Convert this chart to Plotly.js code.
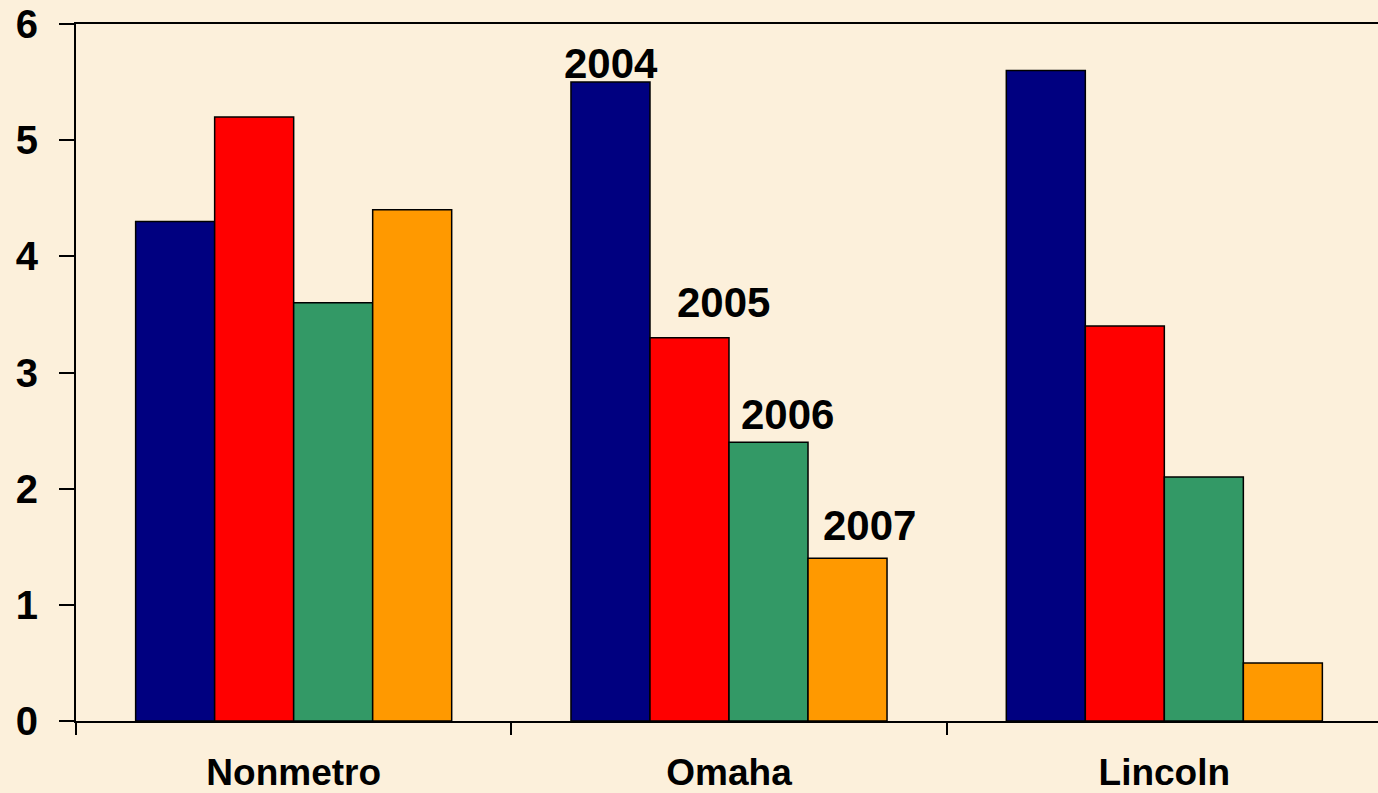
<!DOCTYPE html>
<html>
<head>
<meta charset="utf-8">
<script src="https://cdn.plot.ly/plotly-3.0.1.min.js"></script>
<style>
  html, body { margin: 0; padding: 0; overflow: hidden; background: #FCF0DB; }
  #chart { width: 1382px; height: 793px; }
</style>
</head>
<body>
<div id="chart"></div>
<script>
// Regions and years
const categories = ['Nonmetro', 'Omaha', 'Lincoln'];
const years = ['2004', '2005', '2006', '2007'];

// Values per year, one entry per region
const values2004 = [4.3, 5.5, 5.6];
const values2005 = [5.2, 3.3, 3.4];
const values2006 = [3.6, 2.4, 2.1];
const values2007 = [4.4, 1.4, 0.5];

const seriesValues = [values2004, values2005, values2006, values2007];
const seriesColors = ['#000080', '#FF0000', '#339966', '#FF9900'];

// Year labels are written over the Omaha group
const labelCategoryIndex = 1;
// Pixel nudges for each year label: [dx, gap above bar]
const labelNudges = [[1, 2], [34, 19], [19, 11], [22, 16]];

const bargap = 0.274;
const FONT = 'Liberation Sans, Arial, sans-serif';

const traces = years.map((yr, i) => ({
  type: 'bar',
  name: yr,
  x: categories,
  y: seriesValues[i],
  marker: { color: seriesColors[i], line: { color: '#000000', width: 1.5 } },
  hoverinfo: 'x+y+name'
}));

const nBars = years.length;
const barW = (1 - bargap) / nBars;
const annotations = years.map((yr, i) => ({
  x: labelCategoryIndex + (i - (nBars - 1) / 2) * barW,
  y: seriesValues[i][labelCategoryIndex],
  xref: 'x', yref: 'y',
  text: yr,
  showarrow: false,
  xanchor: 'center', yanchor: 'bottom',
  xshift: labelNudges[i][0],
  yshift: labelNudges[i][1] - 9,
  font: { family: FONT, size: 42, color: '#000000', weight: 700 }
}));

const layout = {
  width: 1382, height: 793,
  margin: { l: 76, r: 0, t: 24, b: 72 },
  paper_bgcolor: '#FCF0DB',
  plot_bgcolor: '#FCF0DB',
  barmode: 'group',
  bargap: bargap,
  bargroupgap: 0,
  showlegend: false,
  xaxis: {
    type: 'category',
    showline: true, mirror: true, linecolor: '#000000', linewidth: 2,
    ticks: 'outside', tickson: 'boundaries', ticklen: 12, tickwidth: 2, tickcolor: '#000000',
    showgrid: false, zeroline: false,
    ticklabelstandoff: 18,
    tickfont: { family: FONT, size: 37, color: '#000000', weight: 700 }
  },
  yaxis: {
    range: [0, 6], dtick: 1, tick0: 0,
    showline: true, linecolor: '#000000', linewidth: 2,
    ticks: 'outside', ticklen: 15, tickwidth: 2, tickcolor: '#000000',
    showgrid: false, zeroline: false,
    ticklabelstandoff: 13,
    tickfont: { family: FONT, size: 40, color: '#000000', weight: 700 }
  },
  annotations: annotations
};

Plotly.newPlot('chart', traces, layout, { displayModeBar: false, staticPlot: true });
</script>
</body>
</html>
